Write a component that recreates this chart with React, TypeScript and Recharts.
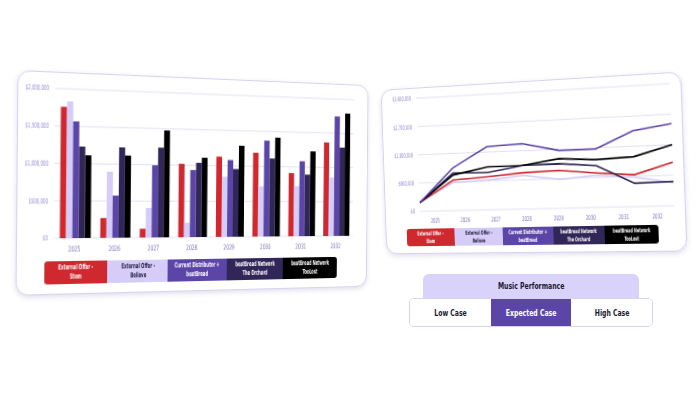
import React from 'react';
import { BarChart, Bar, LineChart, Line, XAxis, YAxis, CartesianGrid } from 'recharts';

// ─── Data ────────────────────────────────────────────────────────────────────
const YEARS = ['2025', '2026', '2027', '2028', '2029', '2030', '2031', '2032'];

// annual revenue by offer (bar chart)
const STEM_BARS = [1758000, 268000, 120000, 1019000, 1128000, 1193000, 910000, 1363000];
const BELIEVE_BARS = [1833000, 897000, 405000, 200000, 847000, 717000, 722000, 853000];
const CURRENT_BARS = [1567000, 573000, 993000, 935000, 1083000, 1369000, 1083000, 1746000];
const ORCHARD_BARS = [1231000, 1231000, 1238000, 1037000, 957000, 1115000, 890000, 1292000];
const TOOLOST_BARS = [1115000, 1121000, 1477000, 1109000, 1288000, 1415000, 1228000, 1792000];

// trend by offer (line chart)
const STEM_LINE = [280000, 963000, 1029000, 1119000, 1153000, 1040000, 951000, 1284000];
const BELIEVE_LINE = [280000, 886000, 926000, 1036000, 880000, 970000, 877000, 680000];
const CURRENT_LINE = [280000, 1344000, 1970000, 2014000, 1765000, 1762000, 2263000, 2423000];
const ORCHARD_LINE = [280000, 1184000, 1163000, 1344000, 1358000, 1260000, 697000, 716000];
const TOOLOST_LINE = [280000, 1120000, 1338000, 1344000, 1510000, 1441000, 1488000, 1800000];

const BAR_TICKS = [0, 500000, 1000000, 1500000, 2000000];
const LINE_TICKS = [0, 900000, 1800000, 2700000, 3600000];

const CASES = ['Low Case', 'Expected Case', 'High Case'];
const ACTIVE_CASE = 'Expected Case';

const SERIES = [
  { key: 'stem', label: ['External Offer -', 'Stem'], color: '#d0282f', text: '#ffffff' },
  { key: 'believe', label: ['External Offer -', 'Believe'], color: '#d5cdf8', text: '#1c1838' },
  { key: 'current', label: ['Current Distributor +', 'beatBread'], color: '#5b46a8', text: '#ffffff' },
  { key: 'orchard', label: ['beatBread Network', 'The Orchard'], color: '#302658', text: '#ffffff' },
  { key: 'toolost', label: ['beatBread Network', 'TooLost'], color: '#000000', text: '#ffffff' },
];

const barData = YEARS.map((year, i) => ({
  year,
  stem: STEM_BARS[i],
  believe: BELIEVE_BARS[i],
  current: CURRENT_BARS[i],
  orchard: ORCHARD_BARS[i],
  toolost: TOOLOST_BARS[i],
}));

const lineData = YEARS.map((year, i) => ({
  year,
  stem: STEM_LINE[i],
  believe: BELIEVE_LINE[i],
  current: CURRENT_LINE[i],
  orchard: ORCHARD_LINE[i],
  toolost: TOOLOST_LINE[i],
}));

// ─── Theme ───────────────────────────────────────────────────────────────────
const FONT = '"DejaVu Sans Condensed", "DejaVu Sans", sans-serif';
const GRID = '#e4dff4';
const Y_TICK = '#948ad0';
const X_TICK = '#7a70b6';
const BORDER = '#d8d2f0';

const money = (v: number) => `$${v.toLocaleString('en-US')}`;

// condensed svg tick: squeezed horizontally around its anchor
function YTick({ x, y, payload, fontSize, squeeze }: any) {
  return (
    <text
      x={0}
      y={0}
      transform={`translate(${x - 4},${y}) scale(${squeeze},1)`}
      textAnchor="end"
      dominantBaseline="central"
      fill={Y_TICK}
      fontSize={fontSize}
      fontFamily={FONT}
    >
      {money(payload.value)}
    </text>
  );
}

function XTick({ x, y, payload, fontSize, dy }: any) {
  return (
    <text
      x={0}
      y={0}
      transform={`translate(${x},${y + dy}) scale(0.68,1)`}
      textAnchor="middle"
      fill={X_TICK}
      fontSize={fontSize}
      fontFamily={FONT}
    >
      {payload.value}
    </text>
  );
}

// ─── Legend strip ────────────────────────────────────────────────────────────
function LegendStrip({ width, height, fontSize }: { width: number; height: number; fontSize: number }) {
  return (
    <div style={{ display: 'flex', width, height, borderRadius: 3, overflow: 'hidden' }}>
      {SERIES.map(s => (
        <div
          key={s.key}
          style={{
            flex: 1,
            minWidth: 0,
            background: s.color,
            color: s.text,
            display: 'flex',
            alignItems: 'center',
            justifyContent: 'center',
            textAlign: 'center',
          }}
        >
          <span
            style={{
              display: 'inline-block',
              transform: 'scaleX(0.62)',
              whiteSpace: 'nowrap',
              fontSize,
              lineHeight: 1.3,
              fontWeight: 700,
              fontFamily: FONT,
            }}
          >
            {s.label[0]}
            <br />
            {s.label[1]}
          </span>
        </div>
      ))}
    </div>
  );
}

const panelStyle: React.CSSProperties = {
  position: 'absolute',
  boxSizing: 'border-box',
  background: '#ffffff',
  border: `1.5px solid ${BORDER}`,
  borderRadius: 12,
  boxShadow: '0 2px 5px rgba(70, 50, 130, 0.16)',
};

// ─── Bar panel ───────────────────────────────────────────────────────────────
function RevenueBars() {
  return (
    <div
      style={{
        ...panelStyle,
        left: 17.5,
        top: 78,
        width: 368,
        height: 213,
        transform: 'perspective(1000px) rotateZ(0.5deg) rotateY(18deg)',
      }}
    >
      <BarChart
        width={366}
        height={175}
        data={barData}
        margin={{ top: 15, right: 16, bottom: 0, left: 0 }}
        barCategoryGap="14%"
        barGap={0}
      >
        <CartesianGrid stroke={GRID} vertical={false} />
        <XAxis
          dataKey="year"
          height={17}
          interval={0}
          tickSize={0}
          tickLine={false}
          axisLine={false}
          tick={<XTick fontSize={7.5} dy={11} />}
        />
        <YAxis
          width={35}
          domain={[0, 2000000]}
          ticks={BAR_TICKS}
          interval={0}
          tickSize={0}
          tickLine={false}
          axisLine={false}
          tick={<YTick fontSize={7} squeeze={0.62} />}
        />
        {SERIES.map(s => (
          <Bar key={s.key} dataKey={s.key} fill={s.color} isAnimationActive={false} />
        ))}
      </BarChart>
      <div style={{ position: 'absolute', left: 26, top: 180 }}>
        <LegendStrip width={306} height={22} fontSize={7} />
      </div>
    </div>
  );
}

// ─── Line panel ──────────────────────────────────────────────────────────────
function RevenueTrend() {
  return (
    <div
      style={{
        ...panelStyle,
        left: 369.5,
        top: 80.5,
        width: 314,
        height: 172,
        transform: 'perspective(1000px) rotateZ(-2deg) rotateY(-17deg)',
      }}
    >
      <LineChart
        width={312}
        height={142}
        data={lineData}
        margin={{ top: 10, right: 10, bottom: 0, left: 0 }}
      >
        <CartesianGrid stroke={GRID} vertical={false} />
        {/* year labels sit mid-band; the lines run edge to edge on their own axis */}
        <XAxis
          dataKey="year"
          height={15}
          interval={0}
          padding={{ left: 16.5, right: 16.5 }}
          tickSize={0}
          tickLine={false}
          axisLine={false}
          tick={<XTick fontSize={6.5} dy={10} />}
        />
        <XAxis xAxisId="pts" dataKey="year" hide />
        <YAxis
          width={39}
          domain={[0, 3600000]}
          ticks={LINE_TICKS}
          interval={0}
          tickSize={0}
          tickLine={false}
          axisLine={false}
          tick={<YTick fontSize={6.5} squeeze={0.63} />}
        />
        {['believe', 'stem', 'orchard', 'toolost', 'current'].map(key => {
          const s = SERIES.find(x => x.key === key)!;
          return (
            <Line
              key={key}
              xAxisId="pts"
              type="linear"
              dataKey={key}
              stroke={s.color}
              strokeWidth={1.6}
              dot={false}
              isAnimationActive={false}
            />
          );
        })}
      </LineChart>
      <div style={{ position: 'absolute', left: 23, top: 145 }}>
        <LegendStrip width={263} height={18} fontSize={6} />
      </div>
    </div>
  );
}

// ─── Scenario selector ───────────────────────────────────────────────────────
function CaseSelector() {
  const label: React.CSSProperties = {
    display: 'inline-block',
    transform: 'scaleX(0.72)',
    whiteSpace: 'nowrap',
    fontSize: 9.5,
    fontWeight: 700,
    fontFamily: FONT,
  };
  return (
    <>
      <div
        style={{
          position: 'absolute',
          left: 423,
          top: 274,
          width: 216,
          height: 28,
          background: '#d9d2fb',
          borderRadius: '6px 6px 0 0',
          display: 'flex',
          justifyContent: 'center',
          paddingTop: 6,
          boxSizing: 'border-box',
          color: '#1b1830',
        }}
      >
        <span style={label}>Music Performance</span>
      </div>
      <div
        style={{
          position: 'absolute',
          left: 409,
          top: 298,
          width: 244,
          height: 29,
          boxSizing: 'border-box',
          border: `1px solid ${BORDER}`,
          borderRadius: 5,
          background: '#ffffff',
          display: 'flex',
          overflow: 'hidden',
        }}
      >
        {CASES.map(c => {
          const active = c === ACTIVE_CASE;
          return (
            <div
              key={c}
              style={{
                flex: 1,
                display: 'flex',
                alignItems: 'center',
                justifyContent: 'center',
                background: active ? '#5b46a8' : '#ffffff',
                color: active ? '#ffffff' : '#1b1830',
              }}
            >
              <span style={label}>{c}</span>
            </div>
          );
        })}
      </div>
    </>
  );
}

export default function App() {
  return (
    <div
      style={{
        position: 'fixed',
        left: 0,
        top: 0,
        width: 700,
        height: 394,
        background: '#ffffff',
        overflow: 'hidden',
        fontFamily: FONT,
      }}
    >
      <RevenueBars />
      <RevenueTrend />
      <CaseSelector />
    </div>
  );
}
